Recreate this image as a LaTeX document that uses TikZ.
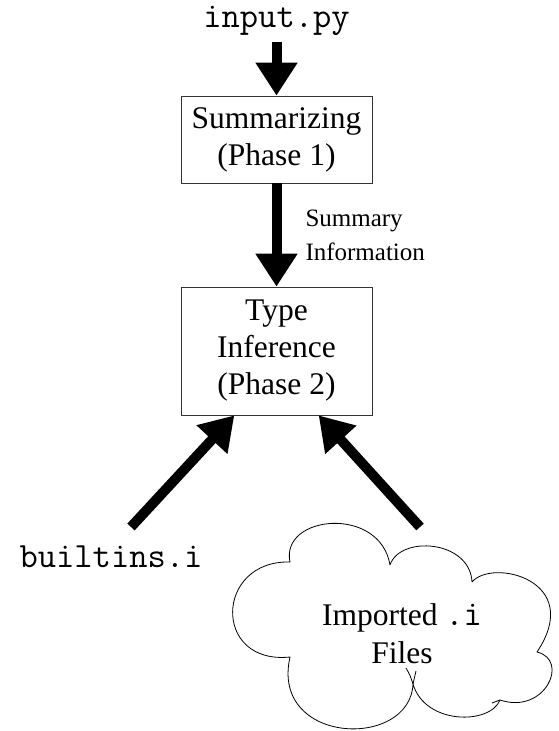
\documentclass[tikz,border=0pt]{standalone}
\usepackage{fontspec}
\setmainfont{Liberation Serif}
\usetikzlibrary{arrows.meta,calc}

\tikzset{
  phasebox/.style={draw=black!80, line width=0.8pt, minimum width=191pt,
    inner sep=0pt, align=center, font=\fontsize{31.5}{37}\selectfont},
  codetext/.style={inner sep=0pt, font=\ttfamily\fontsize{35.5}{37}\selectfont},
  fatarrow/.style={line width=10pt, -{Triangle[length=33pt,width=40pt]}},
  cloudline/.style={line width=0.8pt, line join=round},
}

\begin{document}
\begin{tikzpicture}[x=1pt,y=-1pt]
  \useasboundingbox (0,0) rectangle (558,731);
  % inputs and phases
  \node[codetext] (input) at (276.5,21) {input.py};
  \node[phasebox, minimum height=87pt] (summ) at (276.5,139.5) {Summarizing\\(Phase 1)};
  \node[phasebox, minimum height=128pt] (type) at (276.5,351) {Type\\Inference\\(Phase 2)};
  \node[codetext] (builtins) at (111,557) {builtins.i};
  % the cloud of imported files
  \draw[cloudline] (290,562) .. controls (280,515) and (380,505) .. (390,565)
    .. controls (400,535) and (470,540) .. (472,582)
    .. controls (492,558) and (585,580) .. (537,652)
    .. controls (570,660) and (545,715) .. (500,700)
    .. controls (490,725) and (425,725) .. (413,684)
    .. controls (410,750) and (270,745) .. (290,657)
    .. controls (212,665) and (215,560) .. cycle;
  \draw[cloudline] (413,684) .. controls (414,677) .. (416,671);
  \draw[cloudline] (413,684) .. controls (410,675) .. (406,668);
  \draw[cloudline] (500,700) -- (492,703);
  \node[align=center, inner sep=0pt, font=\fontsize{31.5}{38}\selectfont]
    (importedtext) at (402,634) {Imported {\ttfamily\fontsize{35.5}{38}\selectfont .i}\\Files};
  \coordinate (btail) at (131,527);
  \coordinate (itail) at (420,527);
  % arrows
  \draw[fatarrow, shorten <=6pt] (input) -- (summ);
  \draw[fatarrow] (summ) -- (type)
    node[midway, anchor=west, xshift=24pt, inner sep=0pt, align=left,
      font=\fontsize{25}{34}\selectfont] {Summary\\Information};
  \draw[fatarrow] (btail) -- ($(type.south)!0.44!(type.south west)$);
  \draw[fatarrow] (itail) -- ($(type.south)!0.44!(type.south east)$);
\end{tikzpicture}
\end{document}
